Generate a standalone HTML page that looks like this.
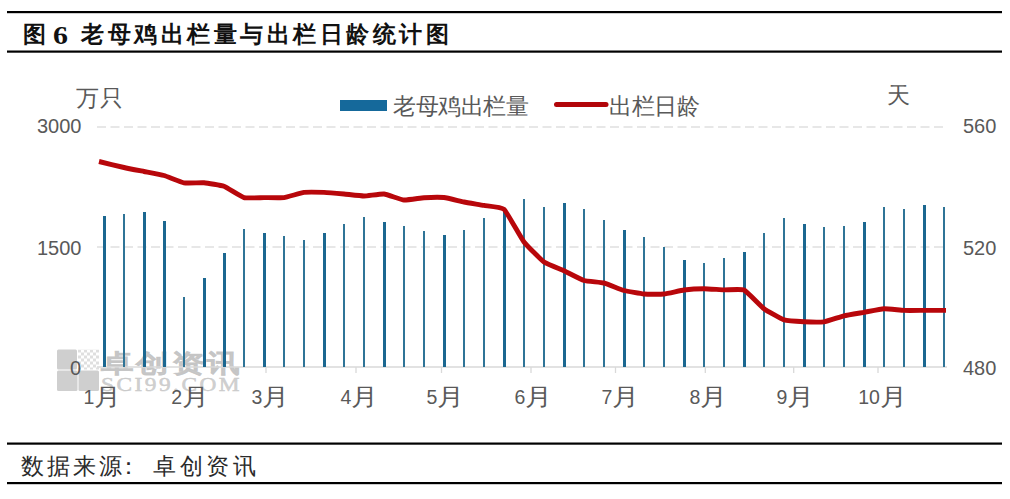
<!DOCTYPE html>
<html><head><meta charset="utf-8"><style>
*{margin:0;padding:0}
html,body{width:1010px;height:499px;background:#fff;overflow:hidden}
body{position:relative;font-family:"Liberation Sans",sans-serif}
.abs{position:absolute;white-space:nowrap}
.src{top:454px;font-size:23px;line-height:24px;letter-spacing:3px;color:#2a2a2a}
.t{position:absolute;font-weight:bold;font-size:23px;line-height:24px;color:#111;top:22px;white-space:nowrap}
.ax{position:absolute;font-size:20px;line-height:20px;color:#595959;white-space:nowrap}
.ml{position:absolute;top:385px;width:80px;text-align:center;font-size:24px;line-height:24px;color:#595959;white-space:nowrap}
.ml .y{display:inline-block;transform:scaleX(1.12);transform-origin:0 0;margin-right:2px}
.ml .d{font-size:19.5px;position:relative;top:-1.5px}
.lg{position:absolute;font-size:23px;line-height:24px;color:#595959;top:94px;white-space:nowrap}
</style></head><body>
<svg width="1010" height="499" style="position:absolute;left:0;top:0">
<g fill="#000">
<rect x="7" y="11" width="995" height="2.2"/>
<rect x="7" y="50.5" width="995" height="2.2"/>
<rect x="7" y="442.5" width="995" height="2.2"/>
<rect x="7" y="482" width="995" height="2.2"/>
</g>
<g stroke="#e0e0e0" stroke-width="1.4" stroke-dasharray="9 4.5">
<line x1="97" y1="127" x2="947" y2="127"/>
<line x1="97" y1="247" x2="947" y2="247"/>
</g>
<defs><pattern id="chk" x="78" y="349.5" width="6" height="6" patternUnits="userSpaceOnUse"><rect width="3" height="3" fill="#d4d4d4"/><rect x="3" y="3" width="3" height="3" fill="#d4d4d4"/></pattern></defs>
<g fill="#cfcfcf">
<rect x="57" y="349.5" width="20" height="20" rx="1.5"/>
<rect x="57" y="370.5" width="20.5" height="20.5" rx="1.5"/>
<rect x="78.5" y="370.5" width="20.5" height="20.5" rx="1.5"/>
<rect x="78" y="349.5" width="21" height="20" fill="url(#chk)" opacity="0.75"/>
</g>
<text transform="translate(101,372) scale(1.3,1)" font-family="Liberation Serif" font-weight="bold" font-size="25" fill="#c4c4c4" fill-opacity="0.85" stroke="#c4c4c4" stroke-opacity="0.85" stroke-width="0.6" letter-spacing="2.2">卓创资讯</text>
<text transform="translate(101,391) scale(1.3,1)" font-family="Liberation Serif" font-size="18" fill="#c8c8c8" fill-opacity="0.85" letter-spacing="1.9" stroke="#c8c8c8" stroke-width="0.4">SCI99.COM</text>
<line x1="97" y1="367" x2="947" y2="367" stroke="#d9d9d9" stroke-width="1.5"/>
<g stroke="#d9d9d9" stroke-width="1.3"><line x1="266" y1="367" x2="266" y2="373"/><line x1="356" y1="367" x2="356" y2="373"/><line x1="441.5" y1="367" x2="441.5" y2="373"/><line x1="531" y1="367" x2="531" y2="373"/><line x1="615.5" y1="367" x2="615.5" y2="373"/><line x1="705.3" y1="367" x2="705.3" y2="373"/><line x1="793.7" y1="367" x2="793.7" y2="373"/><line x1="878" y1="367" x2="878" y2="373"/></g>
<g shape-rendering="crispEdges"><rect x="103" y="216" width="3" height="151.0" fill="#1b6790"/><rect x="123" y="214" width="2" height="153.0" fill="#2f7497"/><rect x="143" y="212.4" width="3" height="154.6" fill="#1b6790"/><rect x="163" y="221.3" width="3" height="145.7" fill="#1b6790"/><rect x="183" y="296.5" width="2" height="70.5" fill="#2f7497"/><rect x="203" y="278" width="3" height="89.0" fill="#1b6790"/><rect x="223" y="253.3" width="3" height="113.7" fill="#1b6790"/><rect x="243" y="229.2" width="2" height="137.8" fill="#2f7497"/><rect x="263" y="232.8" width="3" height="134.2" fill="#1b6790"/><rect x="283" y="236.4" width="2" height="130.6" fill="#2f7497"/><rect x="303" y="240" width="2" height="127.0" fill="#2f7497"/><rect x="323" y="233.1" width="3" height="133.9" fill="#1b6790"/><rect x="343" y="223.8" width="2" height="143.2" fill="#2f7497"/><rect x="363" y="216.6" width="2" height="150.4" fill="#2f7497"/><rect x="383" y="222" width="3" height="145.0" fill="#1b6790"/><rect x="403" y="225.7" width="2" height="141.3" fill="#2f7497"/><rect x="423" y="231.2" width="2" height="135.8" fill="#2f7497"/><rect x="443" y="235.3" width="3" height="131.7" fill="#1b6790"/><rect x="463" y="229.5" width="2" height="137.5" fill="#2f7497"/><rect x="483" y="218.3" width="2" height="148.7" fill="#2f7497"/><rect x="503" y="212" width="3" height="155.0" fill="#1b6790"/><rect x="523" y="199.3" width="2" height="167.7" fill="#2f7497"/><rect x="543" y="206.8" width="2" height="160.2" fill="#2f7497"/><rect x="563" y="203.2" width="3" height="163.8" fill="#1b6790"/><rect x="583" y="208.6" width="2" height="158.4" fill="#2f7497"/><rect x="603" y="220" width="2" height="147.0" fill="#2f7497"/><rect x="623" y="229.7" width="3" height="137.3" fill="#1b6790"/><rect x="643" y="236.8" width="2" height="130.2" fill="#2f7497"/><rect x="663" y="246.5" width="2" height="120.5" fill="#2f7497"/><rect x="683" y="259.5" width="3" height="107.5" fill="#1b6790"/><rect x="703" y="262.9" width="2" height="104.1" fill="#2f7497"/><rect x="723" y="257.8" width="2" height="109.2" fill="#2f7497"/><rect x="743" y="252" width="3" height="115.0" fill="#1b6790"/><rect x="763" y="233.3" width="2" height="133.7" fill="#2f7497"/><rect x="783" y="218.4" width="2" height="148.6" fill="#2f7497"/><rect x="803" y="223.7" width="3" height="143.3" fill="#1b6790"/><rect x="823" y="227.3" width="2" height="139.7" fill="#2f7497"/><rect x="843" y="225.6" width="2" height="141.4" fill="#2f7497"/><rect x="863" y="221.7" width="3" height="145.3" fill="#1b6790"/><rect x="883" y="206.8" width="2" height="160.2" fill="#2f7497"/><rect x="903" y="208.5" width="2" height="158.5" fill="#2f7497"/><rect x="923" y="204.9" width="3" height="162.1" fill="#1b6790"/><rect x="943" y="206.8" width="2" height="160.2" fill="#2f7497"/></g>
<path d="M99,161.5 C100.67,161.90 121.00,166.83 124,167.5 C127.00,168.17 141.33,170.97 144,171.5 C146.67,172.03 161.33,174.75 164,175.5 C166.67,176.25 181.33,182.31 184,182.8 C186.67,183.29 201.33,182.57 204,182.8 C206.67,183.03 221.33,185.31 224,186.3 C226.67,187.29 241.33,196.85 244,197.6 C246.67,198.35 261.33,197.60 264,197.6 C266.67,197.60 281.33,197.95 284,197.6 C286.67,197.25 301.33,192.75 304,192.4 C306.67,192.05 321.33,192.29 324,192.4 C326.67,192.51 341.33,193.76 344,194 C346.67,194.24 361.33,196.00 364,196 C366.67,196.00 381.33,193.73 384,194 C386.67,194.27 401.33,199.75 404,200 C406.67,200.25 421.33,197.87 424,197.7 C426.67,197.53 441.33,197.21 444,197.5 C446.67,197.79 461.33,201.47 464,202 C466.67,202.53 481.33,204.91 484,205.4 C486.67,205.89 501.33,206.86 504,209.3 C506.67,211.74 521.33,238.49 524,242 C526.67,245.51 541.33,260.08 544,262 C546.67,263.92 561.33,269.57 564,270.8 C566.67,272.03 581.33,279.69 584,280.5 C586.67,281.31 601.33,282.33 604,283 C606.67,283.67 621.33,289.77 624,290.5 C626.67,291.23 641.33,293.77 644,294 C646.67,294.23 661.33,294.27 664,294 C666.67,293.73 681.33,290.35 684,290 C686.67,289.65 701.33,288.71 704,288.7 C706.67,288.69 721.33,289.81 724,289.9 C726.67,289.99 741.33,288.75 744,290 C746.67,291.25 761.33,306.71 764,308.7 C766.67,310.69 781.33,319.03 784,319.9 C786.67,320.77 801.33,321.67 804,321.8 C806.67,321.93 821.33,322.20 824,321.8 C826.67,321.40 841.33,316.43 844,315.8 C846.67,315.17 861.33,312.77 864,312.3 C866.67,311.83 881.33,308.83 884,308.7 C886.67,308.57 901.33,310.29 904,310.4 C906.67,310.51 921.20,310.40 924,310.4 C926.80,310.40 944.53,310.40 946,310.4" fill="none" stroke="#b8070b" stroke-width="4.9" stroke-linejoin="round" stroke-linecap="butt"/>
<rect x="340" y="100" width="47" height="11" fill="#15699b"/>
<line x1="556.5" y1="104.5" x2="606" y2="104.5" stroke="#b2060a" stroke-width="5" stroke-linecap="round"/>
</svg>
<div class="t" style="left:23px">图</div>
<div class="t" style="left:53px;top:22px;font-family:'Liberation Serif';font-size:26px;line-height:28px;transform:scaleX(1.15);transform-origin:0 0">6</div>
<div class="t" style="left:81px;letter-spacing:3.5px">老母鸡出栏量与出栏日龄统计图</div>
<div class="ax" style="left:37px;top:116px">3000</div>
<div class="ax" style="left:37px;top:238px">1500</div>
<div class="ax" style="left:70px;top:358px">0</div>
<div class="ax" style="left:963px;top:116px">560</div>
<div class="ax" style="left:963px;top:238px">520</div>
<div class="ax" style="left:963px;top:358px">480</div>
<div class="lg" style="left:76px;top:86px;letter-spacing:1px">万只</div>
<div class="lg" style="left:887px;top:83px">天</div>
<div class="lg" style="left:393px;letter-spacing:-0.5px">老母鸡出栏量</div>
<div class="lg" style="left:609px;letter-spacing:-0.5px">出栏日龄</div>
<div class="ml" style="left:61.900000000000006px"><span class="d">1</span><span class="y">月</span></div><div class="ml" style="left:149.7px"><span class="d">2</span><span class="y">月</span></div><div class="ml" style="left:230px"><span class="d">3</span><span class="y">月</span></div><div class="ml" style="left:319px"><span class="d">4</span><span class="y">月</span></div><div class="ml" style="left:405px"><span class="d">5</span><span class="y">月</span></div><div class="ml" style="left:493px"><span class="d">6</span><span class="y">月</span></div><div class="ml" style="left:580px"><span class="d">7</span><span class="y">月</span></div><div class="ml" style="left:668px"><span class="d">8</span><span class="y">月</span></div><div class="ml" style="left:755px"><span class="d">9</span><span class="y">月</span></div><div class="ml" style="left:842px"><span class="d">10</span><span class="y">月</span></div>
<div class="abs src" style="left:21px">数据来源</div>
<div class="abs src" style="left:117px">：</div>
<div class="abs src" style="left:153px;letter-spacing:3.6px">卓创资讯</div>
</body></html>
